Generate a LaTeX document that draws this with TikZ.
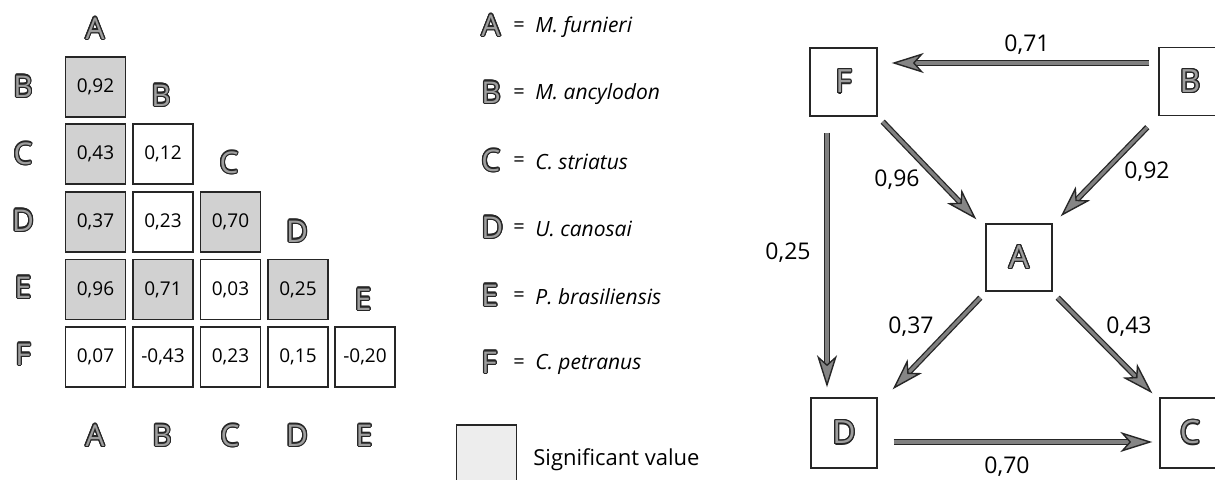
\documentclass[tikz,border=0pt]{standalone}
\usepackage{fontspec}
\setmainfont{Open Sans}
\usepackage{contour}
\contourlength{0.6pt}
\contournumber{16}
\usetikzlibrary{arrows.meta,calc}
\newcommand{\olet}[1]{\contour{black!85}{#1}}
\tikzset{
  x=0.5pt, y=-0.5pt,
  cell/.style={draw=black!85, line width=0.7pt, minimum width=30pt, minimum height=30pt, inner sep=0pt, font=\fontsize{9.5}{11}\selectfont},
  sig/.style={cell, fill=black!18},
  lab/.style={inner sep=0pt, text=black!38, font=\fontsize{15}{17}\selectfont},
  gbox/.style={draw=black!85, line width=0.7pt, minimum height=34pt, inner sep=0pt, text=black!38, font=\fontsize{16}{18}\selectfont},
  arr/.style={line width=1.6pt, draw=black!50,
    preaction={draw=black!85, line width=2.9pt, -, shorten >=9pt},
    -{Stealth[length=16pt, width=10pt, inset=4.5pt, fill=black!48, color=black!85, line width=0.7pt]}},
  elab/.style={inner sep=0pt, font=\fontsize{11.5}{13}\selectfont},
  legl/.style={inner sep=0pt, anchor=west, text=black!38, font=\fontsize{15}{17}\selectfont},
  legt/.style={inner sep=0pt, anchor=west, font=\fontsize{10.5}{12}\itshape\selectfont},
  eqs/.style={inner sep=0pt, font=\fontsize{10}{12}\selectfont}
}
\begin{document}
\begin{tikzpicture}
\useasboundingbox (0,0) rectangle (1215,480);

% ---------- matrix ----------
% row labels
\node[lab] (rB) at (23,87) {\olet{B}};
\node[lab] (rC) at (23,154) {\olet{C}};
\node[lab] (rD) at (23,221) {\olet{D}};
\node[lab] (rE) at (23,288) {\olet{E}};
\node[lab] (rF) at (23,355) {\olet{F}};
% diagonal headers
\node[lab] (hA) at (95,29) {\olet{A}};
\node[lab] (hB) at (161,96) {\olet{B}};
\node[lab] (hC) at (229,163) {\olet{C}};
\node[lab] (hD) at (297,232) {\olet{D}};
\node[lab] (hE) at (363,300) {\olet{E}};
% bottom labels
\node[lab] (bA) at (95,436) {\olet{A}};
\node[lab] (bB) at (162,436) {\olet{B}};
\node[lab] (bC) at (230,436) {\olet{C}};
\node[lab] (bD) at (297,436) {\olet{D}};
\node[lab] (bE) at (364,436) {\olet{E}};
% cells
\node[sig]  (BA) at (95.5,87) {0,92};
\node[sig]  (CA) at (95.5,154) {0,43};
\node[cell] (CB) at (163,154) {0,12};
\node[sig]  (DA) at (95.5,222) {0,37};
\node[cell] (DB) at (163,222) {0,23};
\node[sig]  (DC) at (230.5,222) {0,70};
\node[sig]  (EA) at (95.5,289.5) {0,96};
\node[sig]  (EB) at (163,289.5) {0,71};
\node[cell] (EC) at (230.5,289.5) {0,03};
\node[sig]  (ED) at (298,289.5) {0,25};
\node[cell] (FA) at (95.5,357) {0,07};
\node[cell] (FB) at (163,357) {-0,43};
\node[cell] (FC) at (230.5,357) {0,23};
\node[cell] (FD) at (298,357) {0,15};
\node[cell] (FE) at (365,357) {-0,20};

% ---------- legend ----------
\foreach \l/\t/\y in {A/M. furnieri/26, B/M. ancylodon/93, C/C. striatus/161, D/U. canosai/228, E/P. brasiliensis/296, F/C. petranus/363}{
  \node[legl] (L\l) at (481,\y) {\olet{\l}};
  \node[eqs] (Q\l) at (519,\y+1) {=};
  \node[legt] (T\l) at (535,\y+1) {\t};
}
\node[draw=black!85, line width=0.7pt, fill=black!7, minimum width=30pt, minimum height=30pt, inner sep=0pt] (sigbox) at (486.5,455) {};
\node[inner sep=0pt, anchor=west, font=\fontsize{11}{13}\selectfont] (sigtxt) at (533,460) {Significant value};

% ---------- graph ----------
\node[gbox, minimum width=33.5pt] (F) at (843.5,82) {\olet{F}};
\node[gbox, minimum width=31pt] (B) at (1190,81.5) {\olet{B}};
\node[gbox, minimum width=33pt, minimum height=33.5pt] (A) at (1019,257.5) {\olet{A}};
\node[gbox, minimum width=33pt, minimum height=35pt] (D) at (844,433) {\olet{D}};
\node[gbox, minimum width=30pt, minimum height=35pt] (C) at (1190,433) {\olet{C}};

\draw[arr] ($(B.west)+(-9,-18.5)$) -- ($(F.east)+(14,-19)$);
\draw[arr] ($(F.south east)+(5,5)$) -- ($(A.north west)+(-9,-4)$);
\draw[arr] ($(B.south west)+(-11,11)$) -- ($(A.north east)+(8,-7)$);
\draw[arr] ($(F.south)+(-16.5,16)$) -- ($(D.north)+(-17,-10)$);
\draw[arr] ($(A.south west)+(-5,6)$) -- ($(D.north east)+(15,-8)$);
\draw[arr] ($(A.south east)+(5,6)$) -- ($(C.north west)+(-7,-4)$);
\draw[arr] ($(D.east)+(16,9)$) -- ($(C.west)+(-7,9)$);

\node[elab] (lBF) at (1027,45) {0,71};
\node[elab] (lFA) at (897,180) {0,96};
\node[elab] (lBA) at (1147,172) {0,92};
\node[elab] (lFD) at (788,253) {0,25};
\node[elab] (lAD) at (911,327) {0,37};
\node[elab] (lAC) at (1129,327) {0,43};
\node[elab] (lDC) at (1007,467) {0,70};
\end{tikzpicture}
\end{document}
